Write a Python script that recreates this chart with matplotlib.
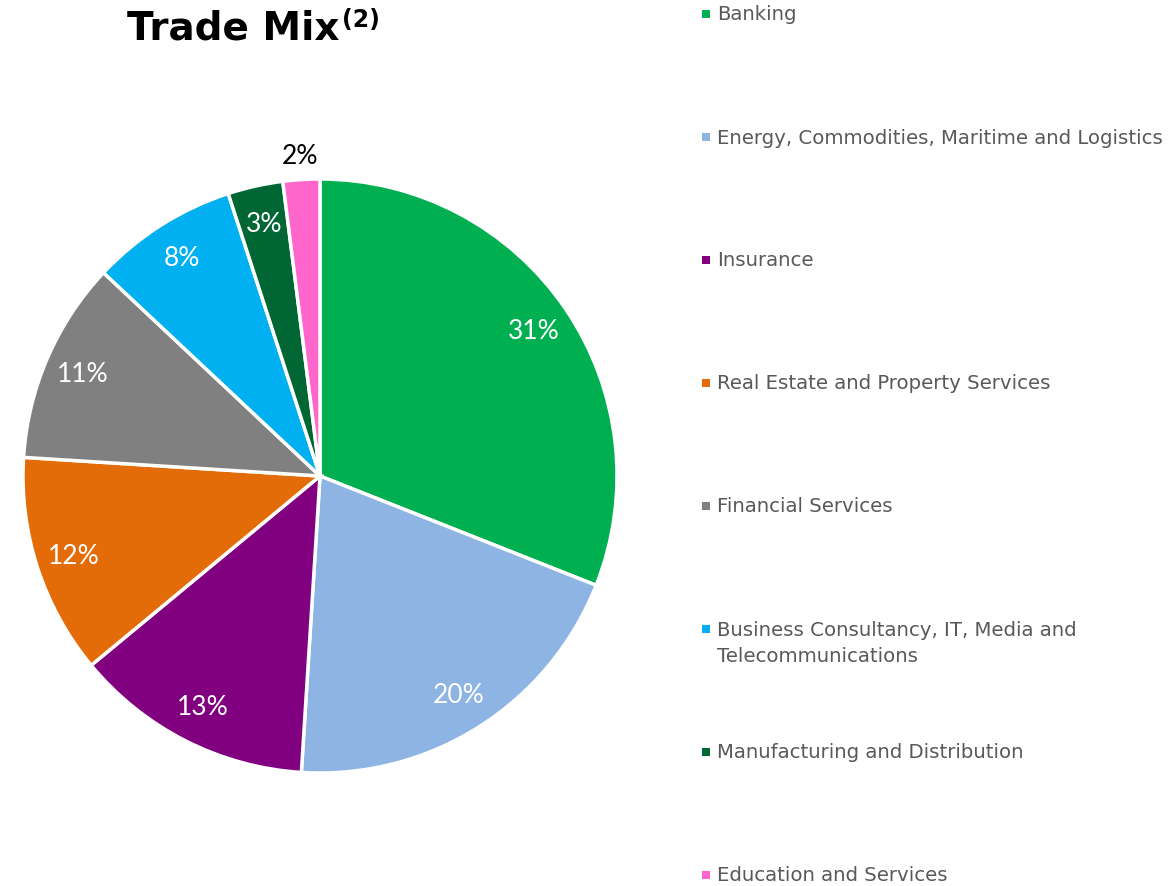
import matplotlib
matplotlib.use("Agg")
import matplotlib.pyplot as plt
from matplotlib.patches import Rectangle
import numpy as np

categories = ["Banking",
              "Energy, Commodities, Maritime and Logistics",
              "Insurance",
              "Real Estate and Property Services",
              "Financial Services",
              "Business Consultancy, IT, Media and\nTelecommunications",
              "Manufacturing and Distribution",
              "Education and Services"]
values = [31, 20, 13, 12, 11, 8, 3, 2]
colors = ["#00B050", "#8EB4E3", "#800080", "#E36C09", "#808080",
          "#00B0F0", "#006633", "#FF66CC"]

W, H = 1175, 887
fig = plt.figure(figsize=(W / 100, H / 100), dpi=100)
fig.patch.set_facecolor("white")

cx, cy, r = 320, 477, 297
pad = 1.3
ax = fig.add_axes([(cx - r * pad) / W, (H - cy - r * pad) / H,
                   2 * r * pad / W, 2 * r * pad / H])

wedges, texts, autotexts = ax.pie(
    values, colors=colors, startangle=90, counterclock=False, radius=1,
    autopct="%d%%", pctdistance=0.87,
    wedgeprops=dict(edgecolor="white", linewidth=2.5),
    textprops=dict(fontsize=19, color="white", family="Lato", fontweight="normal"))
ax.set_xlim(-pad, pad)
ax.set_ylim(-pad, pad)
ax.set_aspect("auto")
ax.axis("off")

# smallest slice label placed outside in black
last = wedges[-1]
ang = np.deg2rad((last.theta1 + last.theta2) / 2)
autotexts[-1].set_position((1.08 * np.cos(ang), 1.08 * np.sin(ang)))
autotexts[-1].set_color("black")

# title
t = fig.text(127 / W, 1 - 28 / H, "Trade Mix", fontsize=28, fontweight="bold",
             family="DejaVu Sans", ha="left", va="center", color="black")
fig.canvas.draw()
bb = t.get_window_extent()
fig.text((bb.x1 + 2) / W, 1 - 20 / H, "(2)", fontsize=17, fontweight="bold",
         family="DejaVu Sans", ha="left", va="center", color="black")

# legend
ys = [15, 138, 261, 384, 507, 630, 753, 876]
for lab, col, y in zip(categories, colors, ys):
    fig.patches.append(Rectangle(((706 - 4) / W, 1 - (y + 4) / H), 8 / W, 8 / H,
                                 transform=fig.transFigure, facecolor=col,
                                 edgecolor="none"))
    for i, line in enumerate(lab.split("\n")):
        fig.text(717 / W, 1 - (y + 26 * i) / H, line, fontsize=14.2,
                 family="DejaVu Sans", color="#595959", ha="left", va="center")

fig.savefig("out.png", dpi=100, facecolor="white")
